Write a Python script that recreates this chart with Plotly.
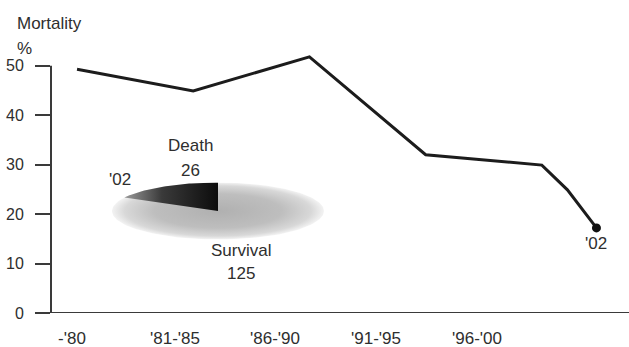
import numpy as np
import plotly.graph_objects as go

# Mortality by period (%)
period_pos = [0, 1, 2, 3, 4, 4.22, 4.47]
mortality = [49.3, 44.9, 51.8, 32.0, 29.9, 24.9, 17.2]
period_labels = ["-'80", "'81-'85", "'86-'90", "'91-'95", "'96-'00"]
label_pos = [-0.043, 0.843, 1.704, 2.573, 3.442]
y_ticks = [0, 10, 20, 30, 40, 50]

# 2002 outcome breakdown
outcome_names = ["Death", "Survival"]
outcome_counts = [26, 125]

FONT = "Liberation Sans, Arial, sans-serif"
TXT = "#2e2e2e"
AX = "#3a3a3a"

fig = go.Figure()

# main mortality line
fig.add_trace(go.Scatter(
    x=period_pos, y=mortality, mode="lines",
    line=dict(color="#1c1c1c", width=3),
    hoverinfo="skip", showlegend=False,
))
fig.add_trace(go.Scatter(
    x=[period_pos[-1]], y=[mortality[-1]], mode="markers",
    marker=dict(color="#111111", size=9),
    hoverinfo="skip", showlegend=False, cliponaxis=False,
))

# flattened pie for 2002: full disc then the death wedge on top
total = sum(outcome_counts)
t_full = np.linspace(0, 2 * np.pi, 200)
fig.add_trace(go.Scatter(
    x=np.cos(t_full), y=np.sin(t_full), xaxis="x2", yaxis="y2",
    mode="lines", line=dict(width=0), fill="toself",
    fillgradient=dict(type="radial",
                      colorscale=[[0, "#b0b0b0"], [0.6, "#bebebe"], [0.88, "#d8d8d8"], [1, "#f3f3f3"]]),
    hoverinfo="skip", showlegend=False,
))
death_angle = 2 * np.pi * outcome_counts[0] / total
t_w = np.linspace(np.pi / 2, np.pi / 2 + death_angle, 60)
wx = np.concatenate([[0], np.cos(t_w), [0]])
wy = np.concatenate([[0], np.sin(t_w), [0]])
fig.add_trace(go.Scatter(
    x=wx, y=wy, xaxis="x2", yaxis="y2",
    mode="lines", line=dict(width=0), fill="toself",
    fillgradient=dict(type="horizontal", start=float(wx.min()), stop=0.0,
                      colorscale=[[0, "#9a9a9a"], [0.4, "#3a3a3a"], [1, "#0c0c0c"]]),
    hoverinfo="skip", showlegend=False,
))

annotations = [
    dict(text="Mortality", x=-0.0623, y=1.066, xanchor="left", font=dict(size=17)),
    dict(text="%", x=-0.0623, y=0.974, xanchor="left", font=dict(size=17)),
    dict(text=outcome_names[0], x=0.2405, y=0.614, font=dict(size=17)),
    dict(text=str(outcome_counts[0]), x=0.2422, y=0.5257, font=dict(size=17)),
    dict(text="'02", x=0.1194, y=0.489, font=dict(size=17)),
    dict(text=outcome_names[1], x=0.3287, y=0.2316, font=dict(size=17)),
    dict(text=str(outcome_counts[1]), x=0.3287, y=0.1434, font=dict(size=17)),
]
for a in annotations:
    a.update(xref="paper", yref="paper", yanchor="middle", showarrow=False)
    a.setdefault("xanchor", "center")
annotations.append(dict(text="'02", x=period_pos[-1], y=mortality[-1], yshift=-16,
                        xanchor="center", yanchor="middle", showarrow=False,
                        font=dict(size=17)))

shapes = [
    # y axis line up to 50
    dict(type="line", xref="paper", yref="y", x0=0, x1=0, y0=0, y1=50,
         line=dict(color=AX, width=2)),
    # x axis line, extending slightly left of the y axis
    dict(type="line", xref="paper", yref="y", x0=-0.0277, x1=1, y0=0, y1=0,
         line=dict(color=AX, width=2)),
]

fig.update_layout(
    width=629, height=347,
    margin=dict(l=51, r=0, t=41, b=34),
    paper_bgcolor="white", plot_bgcolor="white",
    font=dict(family=FONT, size=16, color=TXT),
    showlegend=False,
    annotations=annotations,
    shapes=shapes,
    xaxis=dict(range=[-0.224, 4.75], tickmode="array", tickvals=label_pos,
               ticktext=period_labels, ticks="", showgrid=False, zeroline=False,
               showline=False, ticklabelstandoff=13, tickfont=dict(size=17),
               fixedrange=True),
    yaxis=dict(range=[0, 55], tickmode="array", tickvals=y_ticks, ticks="outside",
               ticklen=15, tickwidth=2, tickcolor=AX, showgrid=False, zeroline=False,
               showline=False, ticklabelstandoff=8, fixedrange=True),
    xaxis2=dict(domain=[0.1055, 0.4723], range=[-1, 1], anchor="y2", visible=False,
                fixedrange=True),
    yaxis2=dict(domain=[0.2702, 0.4798], range=[-1, 1], anchor="x2", visible=False,
                fixedrange=True),
)

fig.write_html("out.html")
